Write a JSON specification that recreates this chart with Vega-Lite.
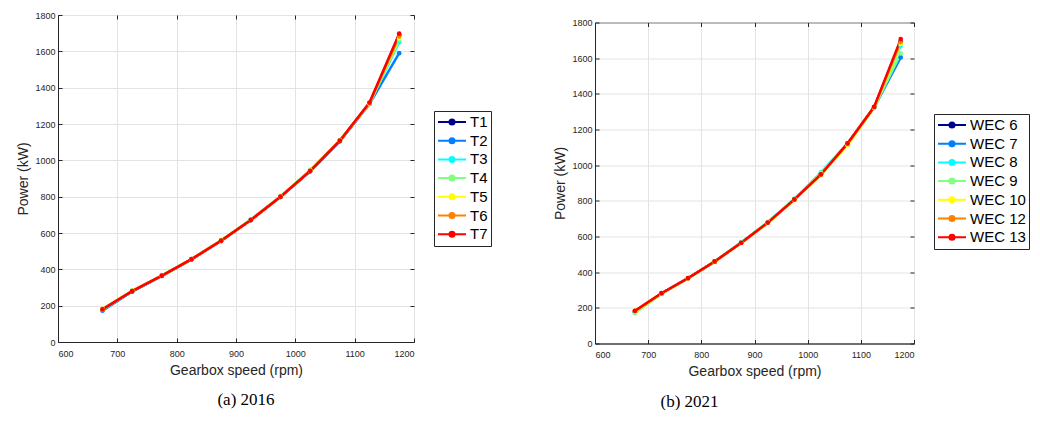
{
"$schema":"https://vega.github.io/schema/vega-lite/v6.json",
"background":"white",
"padding":{"left":16,"top":10,"right":0,"bottom":0},
"spacing":61,
"resolve":{"scale":{"color":"independent"},"legend":{"color":"independent"}},
"config":{
 "font":"Liberation Sans",
 "view":{"stroke":"#262626","strokeWidth":1},
 "axis":{"domainColor":"#262626","tickColor":"#262626","labelColor":"#262626","labelFontSize":9,"titleFontSize":14,"titleFontWeight":"normal","titleColor":"#262626","gridColor":"#e3e3e3","tickSize":-4,"labelPadding":7,"labelFont":"Liberation Sans","titleFont":"Liberation Sans","format":"d"},
 "axisBottom":{"labelPadding":11,"titlePadding":5},
 "legend":{"strokeColor":"#262626","fillColor":"white","padding":3,"labelFontSize":15,"labelColor":"#000000","labelFont":"Liberation Sans","symbolType":"M-1,0H3M1.36,0A0.36,0.36,0,1,1,0.64,0A0.36,0.36,0,1,1,1.36,0","symbolSize":196,"symbolStrokeWidth":2,"rowPadding":2.7,"labelOffset":17,"orient":"none"},
 "title":{"font":"Liberation Serif","fontSize":17,"fontWeight":"normal","color":"#000000"}
},
"datasets":{
"a":[
{"s":"T1","rpm":675,"kw":176},{"s":"T1","rpm":725,"kw":279},{"s":"T1","rpm":775,"kw":364},{"s":"T1","rpm":825,"kw":455},{"s":"T1","rpm":875,"kw":557},{"s":"T1","rpm":925,"kw":671},{"s":"T1","rpm":975,"kw":799},{"s":"T1","rpm":1025,"kw":940},{"s":"T1","rpm":1075,"kw":1106},{"s":"T1","rpm":1125,"kw":1312},{"s":"T1","rpm":1175,"kw":1690},
{"s":"T2","rpm":675,"kw":172},{"s":"T2","rpm":725,"kw":278},{"s":"T2","rpm":775,"kw":364},{"s":"T2","rpm":825,"kw":455},{"s":"T2","rpm":875,"kw":557},{"s":"T2","rpm":925,"kw":671},{"s":"T2","rpm":975,"kw":799},{"s":"T2","rpm":1025,"kw":941},{"s":"T2","rpm":1075,"kw":1106},{"s":"T2","rpm":1125,"kw":1310},{"s":"T2","rpm":1175,"kw":1590},
{"s":"T3","rpm":675,"kw":178},{"s":"T3","rpm":725,"kw":281},{"s":"T3","rpm":775,"kw":365},{"s":"T3","rpm":825,"kw":456},{"s":"T3","rpm":875,"kw":558},{"s":"T3","rpm":925,"kw":673},{"s":"T3","rpm":975,"kw":801},{"s":"T3","rpm":1025,"kw":944},{"s":"T3","rpm":1075,"kw":1109},{"s":"T3","rpm":1125,"kw":1312},{"s":"T3","rpm":1175,"kw":1650},
{"s":"T4","rpm":675,"kw":182},{"s":"T4","rpm":725,"kw":283},{"s":"T4","rpm":775,"kw":366},{"s":"T4","rpm":825,"kw":457},{"s":"T4","rpm":875,"kw":560},{"s":"T4","rpm":925,"kw":674},{"s":"T4","rpm":975,"kw":803},{"s":"T4","rpm":1025,"kw":947},{"s":"T4","rpm":1075,"kw":1111},{"s":"T4","rpm":1125,"kw":1313},{"s":"T4","rpm":1175,"kw":1662},
{"s":"T5","rpm":675,"kw":181},{"s":"T5","rpm":725,"kw":281},{"s":"T5","rpm":775,"kw":365},{"s":"T5","rpm":825,"kw":456},{"s":"T5","rpm":875,"kw":558},{"s":"T5","rpm":925,"kw":672},{"s":"T5","rpm":975,"kw":801},{"s":"T5","rpm":1025,"kw":943},{"s":"T5","rpm":1075,"kw":1108},{"s":"T5","rpm":1125,"kw":1314},{"s":"T5","rpm":1175,"kw":1672},
{"s":"T6","rpm":675,"kw":180},{"s":"T6","rpm":725,"kw":280},{"s":"T6","rpm":775,"kw":364},{"s":"T6","rpm":825,"kw":455},{"s":"T6","rpm":875,"kw":557},{"s":"T6","rpm":925,"kw":671},{"s":"T6","rpm":975,"kw":799},{"s":"T6","rpm":1025,"kw":941},{"s":"T6","rpm":1075,"kw":1107},{"s":"T6","rpm":1125,"kw":1315},{"s":"T6","rpm":1175,"kw":1682},
{"s":"T7","rpm":675,"kw":180},{"s":"T7","rpm":725,"kw":280},{"s":"T7","rpm":775,"kw":365},{"s":"T7","rpm":825,"kw":456},{"s":"T7","rpm":875,"kw":558},{"s":"T7","rpm":925,"kw":672},{"s":"T7","rpm":975,"kw":800},{"s":"T7","rpm":1025,"kw":942},{"s":"T7","rpm":1075,"kw":1108},{"s":"T7","rpm":1125,"kw":1318},{"s":"T7","rpm":1175,"kw":1697}
],
"b":[
{"s":"WEC 6","rpm":675,"kw":177},{"s":"WEC 6","rpm":725,"kw":280},{"s":"WEC 6","rpm":775,"kw":366},{"s":"WEC 6","rpm":825,"kw":459},{"s":"WEC 6","rpm":875,"kw":565},{"s":"WEC 6","rpm":925,"kw":678},{"s":"WEC 6","rpm":975,"kw":808},{"s":"WEC 6","rpm":1025,"kw":950},{"s":"WEC 6","rpm":1075,"kw":1120},{"s":"WEC 6","rpm":1125,"kw":1324},{"s":"WEC 6","rpm":1175,"kw":1695},
{"s":"WEC 7","rpm":675,"kw":176},{"s":"WEC 7","rpm":725,"kw":280},{"s":"WEC 7","rpm":775,"kw":366},{"s":"WEC 7","rpm":825,"kw":459},{"s":"WEC 7","rpm":875,"kw":565},{"s":"WEC 7","rpm":925,"kw":679},{"s":"WEC 7","rpm":975,"kw":809},{"s":"WEC 7","rpm":1025,"kw":953},{"s":"WEC 7","rpm":1075,"kw":1121},{"s":"WEC 7","rpm":1125,"kw":1323},{"s":"WEC 7","rpm":1175,"kw":1604},
{"s":"WEC 8","rpm":675,"kw":175},{"s":"WEC 8","rpm":725,"kw":280},{"s":"WEC 8","rpm":775,"kw":367},{"s":"WEC 8","rpm":825,"kw":460},{"s":"WEC 8","rpm":875,"kw":567},{"s":"WEC 8","rpm":925,"kw":681},{"s":"WEC 8","rpm":975,"kw":811},{"s":"WEC 8","rpm":1025,"kw":960},{"s":"WEC 8","rpm":1075,"kw":1122},{"s":"WEC 8","rpm":1125,"kw":1324},{"s":"WEC 8","rpm":1175,"kw":1669},
{"s":"WEC 9","rpm":675,"kw":170},{"s":"WEC 9","rpm":725,"kw":278},{"s":"WEC 9","rpm":775,"kw":366},{"s":"WEC 9","rpm":825,"kw":459},{"s":"WEC 9","rpm":875,"kw":566},{"s":"WEC 9","rpm":925,"kw":680},{"s":"WEC 9","rpm":975,"kw":810},{"s":"WEC 9","rpm":1025,"kw":955},{"s":"WEC 9","rpm":1075,"kw":1120},{"s":"WEC 9","rpm":1125,"kw":1323},{"s":"WEC 9","rpm":1175,"kw":1627},
{"s":"WEC 10","rpm":675,"kw":178},{"s":"WEC 10","rpm":725,"kw":279},{"s":"WEC 10","rpm":775,"kw":365},{"s":"WEC 10","rpm":825,"kw":458},{"s":"WEC 10","rpm":875,"kw":563},{"s":"WEC 10","rpm":925,"kw":675},{"s":"WEC 10","rpm":975,"kw":805},{"s":"WEC 10","rpm":1025,"kw":946},{"s":"WEC 10","rpm":1075,"kw":1112},{"s":"WEC 10","rpm":1125,"kw":1322},{"s":"WEC 10","rpm":1175,"kw":1680},
{"s":"WEC 12","rpm":675,"kw":182},{"s":"WEC 12","rpm":725,"kw":281},{"s":"WEC 12","rpm":775,"kw":366},{"s":"WEC 12","rpm":825,"kw":459},{"s":"WEC 12","rpm":875,"kw":564},{"s":"WEC 12","rpm":925,"kw":677},{"s":"WEC 12","rpm":975,"kw":807},{"s":"WEC 12","rpm":1025,"kw":948},{"s":"WEC 12","rpm":1075,"kw":1120},{"s":"WEC 12","rpm":1125,"kw":1325},{"s":"WEC 12","rpm":1175,"kw":1690},
{"s":"WEC 13","rpm":675,"kw":183},{"s":"WEC 13","rpm":725,"kw":282},{"s":"WEC 13","rpm":775,"kw":367},{"s":"WEC 13","rpm":825,"kw":460},{"s":"WEC 13","rpm":875,"kw":565},{"s":"WEC 13","rpm":925,"kw":678},{"s":"WEC 13","rpm":975,"kw":808},{"s":"WEC 13","rpm":1025,"kw":948},{"s":"WEC 13","rpm":1075,"kw":1122},{"s":"WEC 13","rpm":1125,"kw":1327},{"s":"WEC 13","rpm":1175,"kw":1707}
]
},
"hconcat":[
{
 "width":356,"height":327,
 "data":{"name":"a"},
 "title":{"text":"(a) 2016","orient":"bottom","dx":10,"offset":15},
 "encoding":{
  "color":{"field":"s","type":"nominal","scale":{"domain":["T1","T2","T3","T4","T5","T6","T7"],"range":["#00008F","#0080FF","#00FFFF","#80FF80","#FFFF00","#FF8000","#FF0000"]},"legend":{"title":null,"legendX":376,"legendY":96}}
 },
 "layer":[
  {"mark":{"type":"line","strokeWidth":2.5},
   "encoding":{
    "x":{"field":"rpm","type":"quantitative","scale":{"domain":[600,1200],"nice":false,"zero":false},"axis":{"orient":"bottom","values":[600,700,800,900,1000,1100,1200],"title":"Gearbox speed (rpm)","grid":true}},
    "y":{"field":"kw","type":"quantitative","scale":{"domain":[0,1800],"nice":false},"axis":{"orient":"left","values":[0,200,400,600,800,1000,1200,1400,1600,1800],"title":"Power (kW)","grid":true}}
   }},
  {"mark":{"type":"point","filled":true,"size":22,"opacity":1},
   "encoding":{
    "x":{"field":"rpm","type":"quantitative","axis":{"orient":"top","values":[600,700,800,900,1000,1100,1200],"labels":false,"title":null,"grid":false,"domain":false}},
    "y":{"field":"kw","type":"quantitative","axis":{"orient":"right","values":[0,200,400,600,800,1000,1200,1400,1600,1800],"labels":false,"title":null,"grid":false,"domain":false}}
   }}
 ],
 "resolve":{"axis":{"x":"independent","y":"independent"}}
},
{
 "spacing":1.5,
 "vconcat":[
 {
  "width":319,"height":1,
  "view":{"stroke":null},
  "data":{"values":[]},
  "mark":{"type":"rule"},
  "encoding":{}
 },
 {
 "width":319,"height":321,
 "data":{"name":"b"},
 "title":{"text":"(b) 2021","orient":"bottom","dx":-65,"offset":15},
 "encoding":{
  "color":{"field":"s","type":"nominal","scale":{"domain":["WEC 6","WEC 7","WEC 8","WEC 9","WEC 10","WEC 12","WEC 13"],"range":["#00008F","#0080FF","#00FFFF","#80FF80","#FFFF00","#FF8000","#FF0000"]},"legend":{"title":null,"legendX":339,"legendY":99}}
 },
 "layer":[
  {"mark":{"type":"line","strokeWidth":2.5},
   "encoding":{
    "x":{"field":"rpm","type":"quantitative","scale":{"domain":[600,1200],"nice":false,"zero":false},"axis":{"orient":"bottom","values":[600,700,800,900,1000,1100,1200],"title":"Gearbox speed (rpm)","grid":true}},
    "y":{"field":"kw","type":"quantitative","scale":{"domain":[0,1800],"nice":false},"axis":{"orient":"left","values":[0,200,400,600,800,1000,1200,1400,1600,1800],"title":"Power (kW)","grid":true}}
   }},
  {"mark":{"type":"point","filled":true,"size":22,"opacity":1},
   "encoding":{
    "x":{"field":"rpm","type":"quantitative","axis":{"orient":"top","values":[600,700,800,900,1000,1100,1200],"labels":false,"title":null,"grid":false,"domain":false}},
    "y":{"field":"kw","type":"quantitative","axis":{"orient":"right","values":[0,200,400,600,800,1000,1200,1400,1600,1800],"labels":false,"title":null,"grid":false,"domain":false}}
   }}
 ],
 "resolve":{"axis":{"x":"independent","y":"independent"}}
 }
 ]
}
]
}
